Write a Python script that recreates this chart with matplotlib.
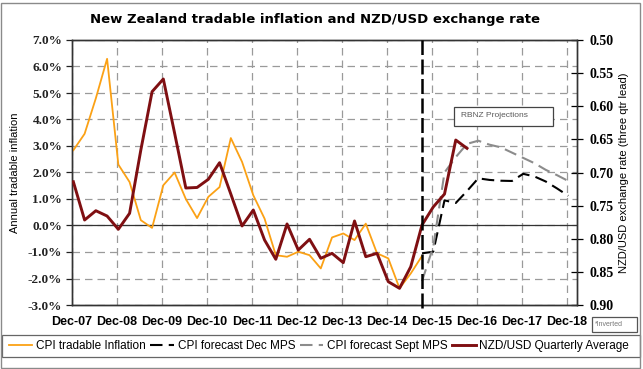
import numpy as np
import matplotlib
matplotlib.use("Agg")
import matplotlib.pyplot as plt
from matplotlib.lines import Line2D
from matplotlib.patches import Rectangle
from matplotlib.ticker import FuncFormatter

# ---------------- data (quarterly, first quarter = Dec-07) ----------------
tick_labels = ["Dec-07", "Dec-08", "Dec-09", "Dec-10", "Dec-11", "Dec-12",
               "Dec-13", "Dec-14", "Dec-15", "Dec-16", "Dec-17", "Dec-18"]
tick_quarters = [0, 4, 8, 12, 16, 20, 24, 28, 32, 36, 40, 44]

# CPI tradable inflation, annual %, Dec-07 .. Sep-15
cpi_tradable = [2.84, 3.46, 4.8, 6.29, 2.3, 1.64, 0.2, -0.09, 1.52, 2.0,
                1.0, 0.28, 1.08, 1.45, 3.3, 2.4, 1.14, 0.26, -1.12, -1.18,
                -0.99, -1.12, -1.62, -0.45, -0.3, -0.55, 0.07, -1.05, -1.24,
                -2.37, -1.81, -1.15]
cpi_start_q = 0

# CPI forecast Dec MPS, Sep-15 .. Dec-18
cpi_dec_mps = [-1.05, -0.99, 0.95, 0.85, 1.3, 1.78, 1.72, 1.69, 1.68, 1.95,
               1.85, 1.66, 1.4, 1.12]
dec_mps_start_q = 31

# CPI forecast Sept MPS, Sep-15 .. Dec-18
cpi_sept_mps = [-2.1, -0.8, 2.0, 2.58, 3.08, 3.2, 3.05, 2.95, 2.75, 2.55,
                2.35, 2.1, 1.9, 1.68]
sept_mps_start_q = 31

# NZD/USD quarterly average (three quarter lead), inverted right axis
nzd_usd = [0.714, 0.7717, 0.7577, 0.7657, 0.7857, 0.7616, 0.666, 0.578,
           0.5589, 0.6404, 0.7234, 0.7226, 0.7103, 0.6852, 0.7325, 0.7807,
           0.7566, 0.8019, 0.831, 0.7777, 0.817, 0.8008, 0.8295, 0.822,
           0.8361, 0.7732, 0.8271, 0.822, 0.8648, 0.8748, 0.8422, 0.7792,
           0.752, 0.7325, 0.651, 0.6635]
nzd_start_q = 0

projection_start_q = 31   # Sep-15

# ---------------- figure ----------------
W, H = 643, 369
fig = plt.figure(figsize=(W / 100, H / 100), dpi=100)
fig.patch.set_facecolor("white")

L, R, T, B = 72, 577, 40, 305
ax = fig.add_axes([L / W, 1 - B / H, (R - L) / W, (B - T) / H])
ax2 = ax.twinx()

offset = 0.12  # mid-month placement of quarterly observations
def xs(start, n):
    return np.arange(n) + start + offset

ORANGE = "#FBA115"
MAROON = "#7F0F12"
GREY = "#8C8C8C"

ax.plot(xs(cpi_start_q, len(cpi_tradable)), cpi_tradable, color=ORANGE,
        lw=1.3, zorder=3)
ax.plot(xs(dec_mps_start_q, len(cpi_dec_mps)), cpi_dec_mps, color="black",
        lw=1.5, dashes=(6, 3), zorder=3)
ax.plot(xs(sept_mps_start_q, len(cpi_sept_mps)), cpi_sept_mps, color=GREY,
        lw=1.5, dashes=(6, 3), zorder=3)
ax2.plot(xs(nzd_start_q, len(nzd_usd)), nzd_usd, color=MAROON, lw=2.1,
         zorder=4)

# vertical projection marker
ax2.axvline(projection_start_q + offset, ymin=-0.012, ymax=1, color="black",
            lw=1.8, dashes=(6, 1.8), zorder=6, clip_on=False)

# axes limits
ax.set_xlim(0, 44.9)
ax.set_ylim(-3, 7)
ax2.set_ylim(0.9, 0.5)

ax.set_yticks(np.arange(-3, 7.01, 1))
ax.yaxis.set_major_formatter(FuncFormatter(lambda v, p: f"{v:.1f}%"))
ax.set_xticks(tick_quarters)
ax.set_xticklabels(tick_labels)
ax2.set_yticks(np.arange(0.5, 0.901, 0.05))
ax2.yaxis.set_major_formatter(FuncFormatter(lambda v, p: f"{v:.2f}"))

ax.grid(True, color="#9A9A9A", lw=0.9, dashes=(6, 4))
ax.set_axisbelow(True)
ax.axhline(0, color="#333333", lw=0.9, zorder=2)

for sp in ax.spines.values():
    sp.set_color("#333333")
    sp.set_linewidth(1.0)
for sp in ax2.spines.values():
    sp.set_color("#333333")
    sp.set_linewidth(1.0)

ax.tick_params(axis="y", direction="out", length=4, width=0.9, pad=3,
               colors="#222222")
ax.tick_params(axis="x", length=0, pad=8)
ax2.tick_params(axis="y", direction="inout", length=8, width=0.9, pad=5)

for lab in ax.get_yticklabels():
    lab.set_fontfamily("Liberation Serif")
    lab.set_fontweight("bold")
    lab.set_fontsize(9.5)
for lab in ax2.get_yticklabels():
    lab.set_fontfamily("Liberation Serif")
    lab.set_fontweight("bold")
    lab.set_fontsize(10)
for lab in ax.get_xticklabels():
    lab.set_fontfamily("Liberation Sans")
    lab.set_fontweight("bold")
    lab.set_fontsize(9)

ax.set_ylabel("Annual tradable inflation", fontfamily="Liberation Sans",
              fontsize=8, labelpad=6)
ax2.set_ylabel("NZD/USD exchange rate (three qtr lead)",
               fontfamily="Liberation Sans", fontsize=8, labelpad=4)

# title
fig.text(315 / W, 1 - 19 / H,
         "New Zealand tradable inflation and NZD/USD exchange rate",
         ha="center", va="center", fontfamily="DejaVu Sans",
         fontweight="bold", fontsize=9.5)

# RBNZ projections box
ax.text((461 - L) / (R - L), 1 - (116 - T) / (B - T), "RBNZ Projections",
        transform=ax.transAxes, ha="left", va="center", fontsize=6,
        color="#595959", fontfamily="Liberation Sans", zorder=7)
ax.add_patch(Rectangle(((454 - L) / (R - L), 1 - (126 - T) / (B - T)),
                       99 / (R - L), 19 / (B - T), transform=ax.transAxes,
                       facecolor="white", edgecolor="#444444", lw=0.9,
                       zorder=6))

# *Inverted box
fig.patches.append(Rectangle((592 / W, 1 - 332 / H), 45 / W, 15 / H,
                             transform=fig.transFigure, facecolor="white",
                             edgecolor="#555555", lw=0.9))
fig.text(595 / W, 1 - 324.5 / H, "*Inverted", ha="left", va="center",
         fontsize=5, color="#777777", fontfamily="Liberation Sans")

# legend box
fig.patches.append(Rectangle((2 / W, 1 - 357 / H), 638 / W, 22 / H,
                             transform=fig.transFigure, facecolor="white",
                             edgecolor="#666666", lw=0.9))
handles = [
    Line2D([], [], color=ORANGE, lw=1.3),
    Line2D([], [], color="black", lw=1.5, dashes=(6, 3)),
    Line2D([], [], color=GREY, lw=1.5, dashes=(6, 3)),
    Line2D([], [], color=MAROON, lw=2.1),
]
labels = ["CPI tradable Inflation", "CPI forecast Dec MPS",
          "CPI forecast Sept MPS", "NZD/USD Quarterly Average"]
fig.legend(handles, labels, loc="center", bbox_to_anchor=(319 / W, 1 - 346 / H),
           ncol=4, frameon=False, handlelength=2.0, handletextpad=0.3,
           columnspacing=0.4, prop={"family": "Liberation Sans", "size": 8.5})

# outer border
fig.patches.append(Rectangle((1 / W, 1 / H), 639 / W, 365 / H,
                             transform=fig.transFigure, fill=False,
                             edgecolor="#8A8A8A", lw=1.0))

fig.savefig("out.png", dpi=100)
